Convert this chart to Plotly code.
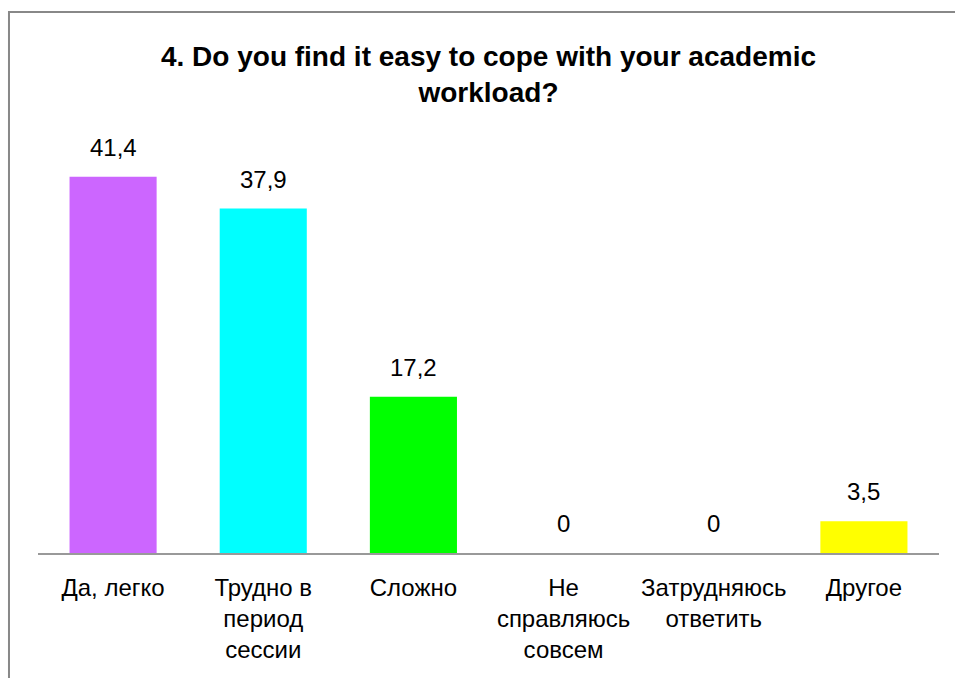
import plotly.graph_objects as go

categories = ["Да, легко", "Трудно в<br>период<br>сессии", "Сложно",
              "Не<br>справляюсь<br>совсем", "Затрудняюсь<br>ответить", "Другое"]
values = [41.4, 37.9, 17.2, 0, 0, 3.5]
value_labels = ["41,4", "37,9", "17,2", "0", "0", "3,5"]
colors = ["#CC66FF", "#00FFFF", "#00FF00", "#CC66FF", "#CC66FF", "#FFFF00"]
title_text = "<b>4. Do you find it easy to cope with your academic<br>workload?</b>"

FONT = "Liberation Sans, Arial, sans-serif"

fig = go.Figure()
fig.add_trace(go.Bar(
    x=list(range(len(categories))), y=values,
    marker=dict(color=colors, line=dict(width=0)),
    width=0.58, hoverinfo="skip",
))

for i, (v, t) in enumerate(zip(values, value_labels)):
    fig.add_annotation(x=i, y=v, text=t, showarrow=False, yanchor="bottom",
                       yshift=14, font=dict(family=FONT, size=24, color="#000000"))

fig.update_layout(
    width=955, height=678,
    margin=dict(l=38, r=16, t=144, b=125),
    paper_bgcolor="white", plot_bgcolor="white",
    showlegend=False,
    title=dict(text=title_text, x=0.5, xanchor="center", xref="paper",
               y=1 - 66 / 678, yanchor="top", yref="container",
               font=dict(family=FONT, size=28, color="#000000")),
    xaxis=dict(tickmode="array", tickvals=list(range(len(categories))), ticktext=categories,
               range=[-0.5, len(categories) - 0.5], showgrid=False, zeroline=False,
               showline=True, linecolor="#999999", linewidth=2, ticks="",
               tickfont=dict(family=FONT, size=24, color="#000000"), ticklabelstandoff=12),
    yaxis=dict(range=[0, 45], visible=False, showgrid=False, zeroline=False),
    shapes=[dict(type="rect", xref="paper", yref="paper",
                 x0=-0.0322, x1=1.2, y0=-0.5, y1=1.323,
                 line=dict(color="#888888", width=2), fillcolor="rgba(0,0,0,0)", layer="below")],
)

fig.write_html("out.html")
